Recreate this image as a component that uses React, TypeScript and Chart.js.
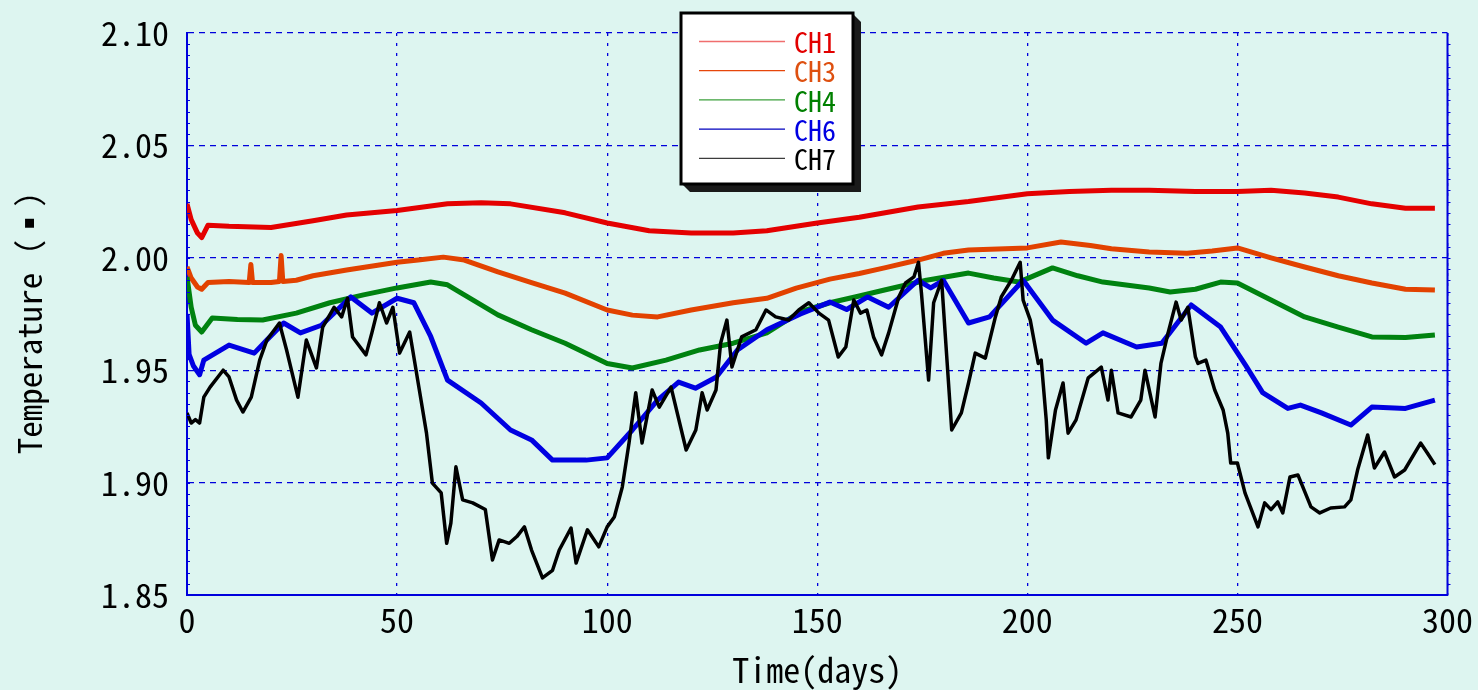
import React, { useEffect, useRef } from "react";
import { Chart, registerables } from "chart.js";

Chart.register(...registerables);

// ---------- DATA ----------
const seriesNames = ["CH1", "CH3", "CH4", "CH6", "CH7"];
const xTickStep = 50;
const yTickStep = 0.05;
const xRange = [0, 300];
const yRange = [1.85, 2.1];

const ch1Days = [0, 1, 2.5, 3.5, 5, 10, 20, 30, 38, 50, 62, 70, 77, 90, 100, 110, 120, 130, 138, 150, 160, 174, 186, 200, 210, 220, 229, 240, 250, 258, 266, 274, 282, 290, 297];
const ch1Values = [2.024, 2.017, 2.011, 2.009, 2.0145, 2.014, 2.0135, 2.0165, 2.019, 2.021, 2.024, 2.0245, 2.024, 2.02, 2.0155, 2.012, 2.011, 2.011, 2.012, 2.0155, 2.018, 2.0226, 2.025, 2.0285, 2.0295, 2.03, 2.03, 2.0295, 2.0295, 2.03, 2.0288, 2.027, 2.024, 2.022, 2.022];

const ch3Days = [0, 1, 2.5, 3.5, 5, 10, 14.8, 15.2, 15.6, 20, 22, 22.4, 22.8, 26, 30, 38, 50, 55, 61, 66, 74, 82, 90, 100, 106, 112, 120, 130, 138, 145, 153, 160, 166, 174, 180, 186, 200, 208, 215, 220, 229, 238, 244, 250, 258, 266, 274, 282, 290, 297];
const ch3Values = [1.996, 1.991, 1.987, 1.986, 1.989, 1.9895, 1.989, 1.997, 1.989, 1.989, 1.9895, 2.001, 1.9895, 1.99, 1.992, 1.9946, 1.998, 1.999, 2.0003, 1.999, 1.9937, 1.989, 1.9843, 1.9768, 1.9745, 1.9737, 1.9768, 1.98, 1.982, 1.9865, 1.9905, 1.993, 1.9955, 1.999, 2.002, 2.0035, 2.0044, 2.007, 2.0055, 2.004, 2.0026, 2.002, 2.003, 2.0044, 2.0, 1.9959, 1.992, 1.9888, 1.986, 1.9857];

const ch4Days = [0, 1, 2, 3.5, 6, 12, 18, 26, 34, 42, 50, 58, 62, 66, 74, 82, 90, 100, 106, 114, 122, 130, 138, 146, 153, 160, 166, 176, 186, 192, 198, 206, 212, 218, 229, 234, 240, 246, 250, 258, 266, 274, 282, 290, 297];
const ch4Values = [1.9915, 1.978, 1.97, 1.967, 1.9732, 1.9725, 1.9723, 1.9754, 1.98, 1.9835, 1.9866, 1.9892, 1.988, 1.9835, 1.9746, 1.968, 1.962, 1.953, 1.951, 1.9545, 1.959, 1.962, 1.9666, 1.976, 1.98, 1.983, 1.9857, 1.99, 1.9932, 1.991, 1.9892, 1.9955, 1.992, 1.9892, 1.9866, 1.9848, 1.986, 1.9892, 1.9888, 1.9812, 1.9737, 1.9692, 1.9648, 1.9645, 1.9657];

const ch6Days = [0, 0.5, 1.5, 3, 4, 10, 16, 19, 23, 27, 32, 39, 44, 50, 54, 58, 62, 70, 77, 82, 87, 95, 100, 106, 112, 117, 121, 126, 131, 138, 146, 153, 157, 162, 167, 174, 177, 180, 186, 191, 199, 206, 214, 218, 226, 232, 239, 246, 252, 256, 262, 265, 270, 277, 282, 290, 297];
const ch6Values = [1.975, 1.957, 1.952, 1.948, 1.9545, 1.9612, 1.9576, 1.9634, 1.971, 1.9666, 1.97, 1.9826, 1.9754, 1.982, 1.98, 1.965, 1.9456, 1.9354, 1.9234, 1.919, 1.91, 1.91, 1.911, 1.9234, 1.9367, 1.9447, 1.942, 1.947, 1.959, 1.968, 1.975, 1.9803, 1.977, 1.9826, 1.978, 1.99, 1.9866, 1.99, 1.971, 1.9737, 1.99, 1.9723, 1.962, 1.9666, 1.9603, 1.962, 1.979, 1.9692, 1.952, 1.94, 1.933, 1.9345, 1.931, 1.9256, 1.9336, 1.933, 1.9367];

const ch7Days = [0, 1, 2, 3, 4, 5.5, 8.6, 10, 11.8, 13.3, 15.3, 17.3, 19, 22, 23.7, 26.4, 28.4, 30.8, 32.3, 35, 36.8, 38.2, 39.4, 42.6, 44, 45.8, 47.5, 49, 50.6, 53, 55.3, 57, 58.4, 60.5, 61.8, 62.8, 64, 65.6, 68, 71, 72.7, 74.3, 76.7, 78.5, 80.3, 82, 84.6, 87, 88.6, 91.4, 92.6, 95.3, 98, 100, 101.7, 103.6, 105.2, 106.8, 108.3, 110.7, 112.4, 115.2, 118.8, 121.1, 122.6, 123.8, 125.9, 127, 128.5, 129.7, 132, 135.4, 137.8, 140.1, 143.2, 145.6, 148, 150.4, 152.7, 155, 156.8, 158.7, 160.3, 161.8, 163.4, 165.3, 167, 169.4, 171, 173, 174.1, 174.8, 176.5, 177.7, 179.6, 180.5, 182, 184.3, 186, 187.6, 190, 192.4, 193.8, 196.2, 198.3, 199, 200.7, 202.6, 203.3, 204.5, 205, 206.7, 208.5, 209.7, 211.6, 214.5, 217.6, 219.2, 220, 221.6, 224.7, 227, 228, 230.4, 231.8, 233.5, 235.4, 236.6, 238.2, 240, 240.6, 242.5, 244.6, 246.6, 247.7, 248.4, 250, 251.8, 254.9, 256.5, 258, 259.6, 260.8, 262.5, 264.4, 267.5, 269.6, 272.2, 275.5, 277, 278.6, 281, 282.6, 285, 287.4, 289.8, 293.6, 295.2, 297];
const ch7Values = [1.931, 1.9265, 1.928, 1.9265, 1.938, 1.9425, 1.95, 1.947, 1.9367, 1.9314, 1.938, 1.9545, 1.9634, 1.971, 1.959, 1.938, 1.9634, 1.951, 1.9692, 1.978, 1.9737, 1.982, 1.9648, 1.9568, 1.9666, 1.98, 1.971, 1.978, 1.9576, 1.967, 1.9412, 1.922, 1.8998, 1.8954, 1.873, 1.882, 1.907, 1.8923, 1.891, 1.888, 1.8656, 1.8745, 1.873, 1.876, 1.8803, 1.87, 1.8576, 1.861, 1.87, 1.8798, 1.8642, 1.879, 1.8714, 1.8803, 1.8847, 1.898, 1.9176, 1.94, 1.9176, 1.9412, 1.9336, 1.9425, 1.9145, 1.9234, 1.94, 1.9323, 1.9412, 1.962, 1.9723, 1.9514, 1.9648, 1.968, 1.9768, 1.9737, 1.9723, 1.9768, 1.98, 1.9754, 1.9723, 1.9559, 1.9603, 1.9812, 1.9754, 1.9768, 1.9648, 1.9568, 1.9666, 1.9826, 1.9888, 1.9915, 1.998, 1.9843, 1.9456, 1.98, 1.99, 1.9648, 1.9234, 1.931, 1.9443, 1.9576, 1.9554, 1.9737, 1.9826, 1.99, 1.998, 1.9812, 1.9723, 1.953, 1.9545, 1.9279, 1.911, 1.9323, 1.9443, 1.922, 1.9279, 1.9466, 1.9514, 1.9367, 1.95, 1.931, 1.9292, 1.9367, 1.95, 1.9292, 1.953, 1.9666, 1.9803, 1.9723, 1.978, 1.9559, 1.953, 1.9545, 1.9412, 1.9323, 1.922, 1.9087, 1.9087, 1.8954, 1.8803, 1.891, 1.888, 1.8914, 1.8865, 1.9025, 1.9034, 1.8892, 1.8865, 1.8887, 1.8892, 1.8923, 1.9056, 1.9212, 1.9065, 1.9136, 1.9025, 1.9056, 1.9176, 1.9132, 1.908];

const seriesDays = [ch1Days, ch3Days, ch4Days, ch6Days, ch7Days];
const seriesValues = [ch1Values, ch3Values, ch4Values, ch6Values, ch7Values];

// ---------- STYLE ----------
const lineColors = ["rgb(228,0,0)", "rgb(226,66,0)", "rgb(0,130,16)", "rgb(0,0,225)", "rgb(0,0,0)"];
const legendLineColors = ["rgb(240,110,110)", "rgb(230,70,10)", "rgb(60,160,60)", "rgb(0,0,190)", "rgb(60,60,60)"];
const legendTextColors = ["rgb(226,0,0)", "rgb(222,80,16)", "rgb(0,128,0)", "rgb(0,0,226)", "rgb(0,0,0)"];
const lineWidths = [5, 5, 5, 5, 3.5];
const BG = "rgb(221,245,240)";
const AXIS_BLUE = "rgb(0,0,220)";
const FONT = "'Noto Sans Mono CJK JP', 'Liberation Mono', monospace";

const bgPlugin = {
  id: "bgFill",
  beforeDraw(chart: any) {
    const { ctx, width, height } = chart;
    ctx.save();
    ctx.fillStyle = BG;
    ctx.fillRect(0, 0, width, height);
    ctx.restore();
  },
};

const framePlugin = {
  id: "frameDeco",
  afterDraw(chart: any) {
    const { ctx, chartArea } = chart;
    const yScale = chart.scales.y;
    ctx.save();
    ctx.strokeStyle = AXIS_BLUE;
    ctx.lineWidth = 2;
    ctx.beginPath();
    ctx.moveTo(chartArea.right, chartArea.top);
    ctx.lineTo(chartArea.right, chartArea.bottom);
    ctx.stroke();
    ctx.lineWidth = 1;
    const n = Math.round((yRange[1] - yRange[0]) / 0.005);
    for (let i = 1; i < n; i++) {
      const py = Math.round(yScale.getPixelForValue(yRange[0] + i * 0.005)) + 0.5;
      ctx.beginPath();
      ctx.moveTo(chartArea.left, py);
      ctx.lineTo(chartArea.left + 3, py);
      ctx.moveTo(chartArea.right, py);
      ctx.lineTo(chartArea.right + 3, py);
      ctx.stroke();
    }
    ctx.restore();
  },
};

const legendBoxPlugin = {
  id: "legendBox",
  afterDraw(chart: any) {
    const { ctx } = chart;
    const x = 681, y = 13, w = 172, h = 171;
    ctx.save();
    ctx.fillStyle = "#1a1a1a";
    ctx.beginPath();
    ctx.moveTo(x + w, y + 1);
    ctx.lineTo(x + w + 8, y + 9);
    ctx.lineTo(x + w + 8, y + h + 8);
    ctx.lineTo(x + 9, y + h + 8);
    ctx.lineTo(x + 1, y + h);
    ctx.closePath();
    ctx.fill();
    ctx.fillStyle = "#ffffff";
    ctx.fillRect(x, y, w, h);
    ctx.strokeStyle = "#000";
    ctx.lineWidth = 3;
    ctx.strokeRect(x, y, w, h);
    ctx.font = `28px ${FONT}`;
    ctx.textBaseline = "middle";
    ctx.textAlign = "left";
    chart.data.datasets.forEach((ds: any, i: number) => {
      const ry = 41.5 + i * 29.2;
      ctx.strokeStyle = legendLineColors[i];
      ctx.lineWidth = 1.3;
      ctx.beginPath();
      ctx.moveTo(699, ry);
      ctx.lineTo(785, ry);
      ctx.stroke();
      ctx.fillStyle = legendTextColors[i];
      ctx.fillText(ds.label, 794, ry + 1);
    });
    ctx.restore();
  },
};

export default function App() {
  const ref = useRef<HTMLCanvasElement | null>(null);

  useEffect(() => {
    document.body.style.margin = "0";
    const canvas = ref.current;
    if (!canvas) return;
    const datasets = seriesNames.map((name, i) => ({
      label: name,
      data: seriesDays[i].map((d, j) => ({ x: d, y: seriesValues[i][j] })),
      borderColor: lineColors[i],
      backgroundColor: lineColors[i],
      borderWidth: lineWidths[i],
      borderJoinStyle: "round" as const,
      pointRadius: 0,
      tension: 0,
      fill: false,
      order: seriesNames.length - i,
    }));

    const chart = new Chart(canvas, {
      type: "line",
      data: { datasets },
      plugins: [bgPlugin, framePlugin, legendBoxPlugin],
      options: {
        animation: false,
        responsive: false,
        devicePixelRatio: 1,
        events: [],
        layout: { padding: { top: 33, right: 28, left: 0, bottom: 0 } },
        plugins: {
          legend: { display: false },
          tooltip: { enabled: false },
          title: { display: false },
        },
        scales: {
          x: {
            type: "linear",
            min: xRange[0],
            max: xRange[1],
            afterFit: (s: any) => {
              s.height = 95;
            },
            ticks: {
              stepSize: xTickStep,
              color: "#000",
              font: { family: FONT, size: 34 },
              padding: 5,
              maxRotation: 0,
            },
            grid: {
              color: AXIS_BLUE,
              lineWidth: 1.3,
              drawTicks: false,
            },
            border: { color: AXIS_BLUE, width: 2, dash: [3, 7] },
            title: {
              display: true,
              text: "Time(days)",
              color: "#000",
              font: { family: FONT, size: 34, lineHeight: 1.2 },
              padding: { top: 0, bottom: 0 },
            },
          },
          y: {
            type: "linear",
            min: yRange[0],
            max: yRange[1],
            afterFit: (s: any) => {
              s.width = 187;
            },
            ticks: {
              stepSize: yTickStep,
              color: "#000",
              font: { family: FONT, size: 34, lineHeight: 0.8 },
              padding: 18,
              callback: (v: any) => Number(v).toFixed(2),
            },
            grid: {
              color: AXIS_BLUE,
              lineWidth: 1.2,
              drawTicks: false,
            },
            border: { color: AXIS_BLUE, width: 2, dash: [6, 5] },
            title: {
              display: true,
              text: "Temperature（▪）",
              color: "#000",
              font: { family: FONT, size: 33, lineHeight: 1.2 },
              padding: { top: 10, bottom: 0 },
            },
          },
        },
      },
    });
    return () => chart.destroy();
  }, []);

  return (
    <div style={{ width: 1478, height: 690, background: BG }}>
      <canvas ref={ref} width={1478} height={690} style={{ display: "block" }} />
    </div>
  );
}
